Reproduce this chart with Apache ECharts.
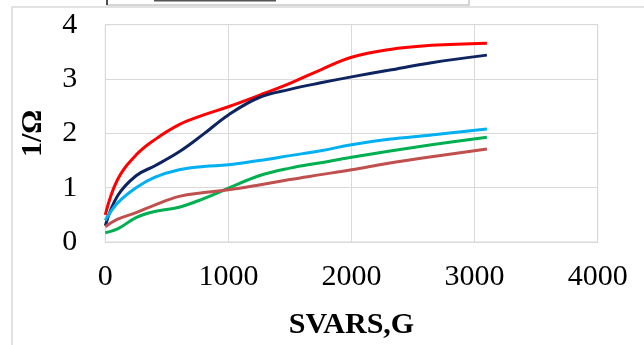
<!DOCTYPE html>
<html>
<head>
<meta charset="utf-8">
<script src="https://cdn.jsdelivr.net/npm/echarts@6/dist/echarts.min.js"></script>
<style>
html,body{margin:0;padding:0;background:#fff;}
#chart{width:644px;height:345px;}
</style>
</head>
<body>
<div id="chart"></div>
<script>
const xValues = [0, 100, 250, 400, 600, 800, 1000, 1250, 1500, 1750, 2000, 2300, 2650, 3100];
const redValues = [0.50, 1.15, 1.60, 1.88, 2.16, 2.34, 2.49, 2.70, 2.92, 3.17, 3.40, 3.54, 3.62, 3.66];
const navyValues = [0.30, 0.85, 1.22, 1.40, 1.66, 1.99, 2.34, 2.66, 2.81, 2.93, 3.04, 3.16, 3.30, 3.44];
const skyValues = [0.40, 0.72, 1.00, 1.19, 1.33, 1.39, 1.42, 1.50, 1.59, 1.68, 1.79, 1.89, 1.97, 2.08];
const greenValues = [0.17, 0.24, 0.45, 0.56, 0.64, 0.80, 0.99, 1.22, 1.36, 1.46, 1.56, 1.67, 1.79, 1.93];
const brownValues = [0.28, 0.42, 0.54, 0.68, 0.84, 0.91, 0.96, 1.05, 1.15, 1.24, 1.33, 1.45, 1.57, 1.71];
const xTicks = [0, 1000, 2000, 3000, 4000];
const yTicks = [0, 1, 2, 3, 4];

const seriesDefs = [
  { name: 'red', data: redValues, color: '#FF0000' },
  { name: 'navy', data: navyValues, color: '#0E2461' },
  { name: 'sky', data: skyValues, color: '#00B0F0' },
  { name: 'green', data: greenValues, color: '#00B050' },
  { name: 'brown', data: brownValues, color: '#C0504D' }
];

const chart = echarts.init(document.getElementById('chart'), null, { renderer: 'canvas' });
chart.setOption({
  animation: false,
  backgroundColor: '#fff',
  grid: { left: 105.3, right: 46.3, top: 24.7, bottom: 102.5, show: true, borderColor: '#d9d9d9', borderWidth: 1 },
  xAxis: {
    type: 'value', min: xTicks[0], max: xTicks[xTicks.length - 1], interval: 1000,
    name: 'SVARS,G', nameLocation: 'middle', nameGap: 68,
    nameTextStyle: { fontFamily: 'Liberation Serif', fontWeight: 'bold', fontSize: 30, color: '#000' },
    axisLine: { show: true, lineStyle: { color: '#d9d9d9' } },
    axisTick: { show: false },
    axisLabel: { margin: 20, fontFamily: 'Liberation Serif', fontSize: 30, color: '#000', formatter: v => String(v) },
    splitLine: { show: true, lineStyle: { color: '#d9d9d9', width: 1 } }
  },
  yAxis: {
    type: 'value', min: yTicks[0], max: yTicks[yTicks.length - 1], interval: 1,
    name: '1/Ω', nameLocation: 'middle', nameGap: 57, nameRotate: 90,
    nameTextStyle: { fontFamily: 'Liberation Serif', fontWeight: 'bold', fontSize: 30, color: '#000' },
    axisLine: { show: true, lineStyle: { color: '#d9d9d9' } },
    axisTick: { show: false },
    axisLabel: { margin: 28, fontFamily: 'Liberation Serif', fontSize: 30, color: '#000', formatter: v => String(v) },
    splitLine: { show: true, lineStyle: { color: '#d9d9d9', width: 1 } }
  },
  series: seriesDefs.map(s => ({
    name: s.name,
    type: 'line',
    smooth: 0.4,
    showSymbol: false,
    data: xValues.map((x, i) => [x, s.data[i]]),
    lineStyle: { color: s.color, width: 3 },
    itemStyle: { color: s.color }
  })),
  graphic: [
    { type: 'rect', shape: { x: 12, y: 7, width: 700, height: 400 }, style: { fill: 'none', stroke: '#d9d9d9', lineWidth: 1.5 }, silent: true, z: -1 },
    { type: 'rect', shape: { x: 107, y: -10, width: 362, height: 15 }, style: { fill: '#fff', stroke: '#c8c8c8', lineWidth: 1.5 }, silent: true },
    { type: 'line', shape: { x1: 107, y1: -5, x2: 107, y2: 5 }, style: { stroke: '#222', lineWidth: 1.5 }, silent: true },
    { type: 'line', shape: { x1: 154, y1: 0.5, x2: 276, y2: 0.5 }, style: { stroke: '#555', lineWidth: 2 }, silent: true }
  ]
});
</script>
</body>
</html>
